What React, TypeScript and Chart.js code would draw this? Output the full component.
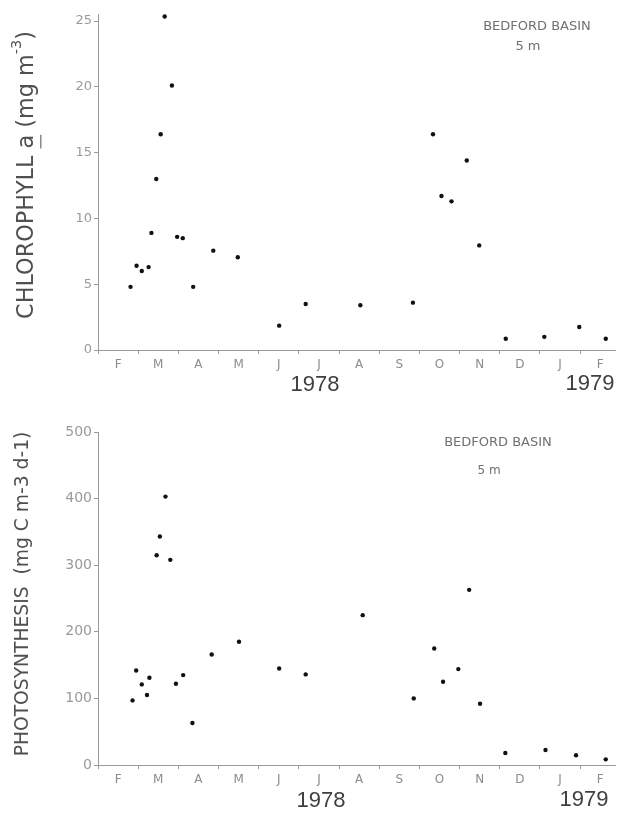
import React, { useEffect, useRef } from 'react';
import { Chart, registerables } from 'chart.js';

Chart.register(...registerables);

// Month labels (Feb 1978 .. Feb 1979); x values are months since 1 Feb 1978
const MONTH_LABELS = ['F', 'M', 'A', 'M', 'J', 'J', 'A', 'S', 'O', 'N', 'D', 'J', 'F'];
const YEAR_LABELS = ['1978', '1979'];

// Chlorophyll a at 5 m (mg m-3)
const CHL_MONTH = [0.81, 0.96, 1.09, 1.26, 1.33, 1.45, 1.56, 1.66, 1.84, 1.97, 2.11, 2.37, 2.87, 3.48, 4.51, 5.17, 6.53, 7.84, 8.34, 8.55, 8.8, 9.18, 9.49, 10.15, 11.11, 11.98, 12.64];
const CHL_VALUE = [4.8, 6.4, 6.0, 6.3, 8.9, 13.0, 16.4, 25.35, 20.1, 8.6, 8.5, 4.8, 7.55, 7.05, 1.85, 3.5, 3.4, 3.6, 16.4, 11.7, 11.3, 14.4, 7.95, 0.85, 1.0, 1.75, 0.85];
const CHL_TICKS = [0, 5, 10, 15, 20, 25];

// Photosynthesis at 5 m (mg C m-3 d-1)
const PS_MONTH = [0.86, 0.95, 1.09, 1.22, 1.28, 1.46, 1.54, 1.68, 1.8, 1.94, 2.12, 2.35, 2.83, 3.51, 4.51, 5.17, 6.59, 7.86, 8.37, 8.59, 8.97, 9.24, 9.51, 10.14, 11.14, 11.9, 12.64];
const PS_VALUE = [97, 142, 121, 105, 131, 315, 343, 403, 308, 122, 135, 63, 166, 185, 145, 136, 225, 100, 175, 125, 144, 263, 92, 18, 22.5, 14.6, 8.5];
const PS_TICKS = [0, 100, 200, 300, 400, 500];

const STATION = 'BEDFORD BASIN';
const DEPTH = '5 m';

type Seg = { t: string; sup?: boolean; underline?: boolean };

const textPlugin = {
  id: 'texts',
  afterDraw(chart: any, _args: any, o: any) {
    const ctx = chart.ctx as CanvasRenderingContext2D;
    ctx.save();
    // station + depth
    ctx.fillStyle = '#707070';
    ctx.textAlign = 'center';
    ctx.textBaseline = 'middle';
    ctx.font = `${o.stationSize}px 'DejaVu Sans'`;
    ctx.fillText(STATION, o.stationX, o.stationY);
    ctx.font = `${o.depthSize}px 'DejaVu Sans'`;
    ctx.fillText(DEPTH, o.depthX, o.depthY);
    // years
    ctx.fillStyle = '#404040';
    ctx.font = `22px 'Liberation Sans'`;
    ctx.fillText(YEAR_LABELS[0], o.y1X, o.yearY);
    ctx.fillText(YEAR_LABELS[1], o.y2X, o.yearY2);
    // rotated y title
    const segs: Seg[] = o.title;
    const base = 18;
    const measure = (size: number) => {
      let w = 0;
      for (const s of segs) {
        ctx.font = `${s.sup ? size * 0.65 : size}px 'DejaVu Sans'`;
        w += ctx.measureText(s.t).width;
      }
      return w;
    };
    const size = base * o.titleLen / measure(base);
    const total = measure(size);
    ctx.translate(o.titleX, o.titleY);
    ctx.rotate(-Math.PI / 2);
    ctx.fillStyle = '#505050';
    ctx.strokeStyle = '#505050';
    ctx.textAlign = 'left';
    ctx.textBaseline = 'middle';
    let x = -total / 2;
    for (const s of segs) {
      const fs = s.sup ? size * 0.65 : size;
      ctx.font = `${fs}px 'DejaVu Sans'`;
      const w = ctx.measureText(s.t).width;
      const dy = s.sup ? -size * 0.42 : 0;
      ctx.fillText(s.t, x, dy);
      if (s.underline) {
        ctx.lineWidth = 1;
        ctx.beginPath();
        ctx.moveTo(x, size * 0.62);
        ctx.lineTo(x + w, size * 0.62);
        ctx.stroke();
      }
      x += w;
    }
    ctx.restore();
  },
};

function makeConfig(xs: number[], ys: number[], yTicks: number[], yMax: number, p: any): any {
  const axisColor = '#9a9a9a';
  const xTicks: number[] = [];
  for (let i = 0; i < MONTH_LABELS.length; i++) {
    xTicks.push(i);
    xTicks.push(i + 0.5);
  }
  return {
    type: 'scatter',
    data: {
      datasets: [
        {
          data: xs.map((x, i) => ({ x, y: ys[i] })),
          pointRadius: 2.2,
          pointBackgroundColor: '#111',
          pointBorderWidth: 0,
          showLine: false,
          clip: false,
        },
      ],
    },
    plugins: [textPlugin],
    options: {
      animation: false,
      responsive: false,
      maintainAspectRatio: false,
      devicePixelRatio: 1,
      layout: { padding: { top: p.padTop, left: 0, right: 0, bottom: 0 } },
      plugins: {
        legend: { display: false },
        tooltip: { enabled: false },
        texts: p.texts,
      },
      scales: {
        x: {
          type: 'linear',
          min: 0,
          max: 12.87,
          afterBuildTicks: (s: any) => {
            s.ticks = xTicks.map((v) => ({ value: v }));
          },
          afterFit: (s: any) => {
            s.height = p.xHeight;
          },
          border: { color: axisColor, width: 1 },
          grid: {
            drawOnChartArea: false,
            drawTicks: true,
            tickLength: 4,
            tickColor: (c: any) => (c.tick && Number.isInteger(c.tick.value) ? axisColor : 'rgba(0,0,0,0)'),
          },
          ticks: {
            autoSkip: false,
            maxRotation: 0,
            padding: 4,
            color: '#8c8c8c',
            font: { family: "'DejaVu Sans'", size: 12 },
            callback: (v: number) => (Number.isInteger(v) ? '' : MONTH_LABELS[Math.floor(v)]),
          },
        },
        y: {
          min: 0,
          max: yMax,
          afterBuildTicks: (s: any) => {
            s.ticks = yTicks.map((v) => ({ value: v }));
          },
          afterFit: (s: any) => {
            s.width = 98;
          },
          border: { color: axisColor, width: 1 },
          grid: { drawOnChartArea: false, drawTicks: true, tickLength: 4, tickColor: axisColor },
          ticks: {
            padding: 2,
            color: '#9a9a9a',
            font: { family: "'DejaVu Sans'", size: p.yFont },
          },
        },
      },
    },
  };
}

function ChartCanvas({ config, top, height }: { config: any; top: number; height: number }) {
  const ref = useRef<HTMLCanvasElement | null>(null);
  useEffect(() => {
    if (!ref.current) return;
    const chart = new Chart(ref.current, config);
    return () => chart.destroy();
  }, [config]);
  return (
    <canvas
      ref={ref}
      width={619}
      height={height}
      style={{ position: 'absolute', left: 0, top, width: 619, height }}
    />
  );
}

const chlConfig = makeConfig(CHL_MONTH, CHL_VALUE, CHL_TICKS, 25.5, {
  padTop: 14.5,
  xHeight: 50,
  yFont: 13,
  texts: {
    stationX: 537,
    stationY: 27,
    stationSize: 13,
    depthX: 528,
    depthY: 47,
    depthSize: 13,
    y1X: 315,
    y2X: 590,
    yearY: 385,
    yearY2: 384,
    titleX: 27,
    titleY: 175,
    titleLen: 288,
    title: [
      { t: 'CHLOROPHYLL ' },
      { t: 'a', underline: true },
      { t: ' (mg m' },
      { t: '-3', sup: true },
      { t: ')' },
    ],
  },
});

const psConfig = makeConfig(PS_MONTH, PS_VALUE, PS_TICKS, 500, {
  padTop: 32,
  xHeight: 53,
  yFont: 14,
  texts: {
    stationX: 498,
    stationY: 43,
    stationSize: 13,
    depthX: 489,
    depthY: 71,
    depthSize: 12,
    y1X: 321,
    y2X: 584,
    yearY: 401,
    yearY2: 400,
    titleX: 23,
    titleY: 194,
    titleLen: 325,
    title: [{ t: 'PHOTOSYNTHESIS  (mg C m-3 d-1)' }],
  },
});

export default function App() {
  return (
    <div style={{ position: 'absolute', left: 0, top: 0, width: 619, height: 818, background: '#fff' }}>
      <ChartCanvas config={chlConfig} top={0} height={400} />
      <ChartCanvas config={psConfig} top={400} height={418} />
    </div>
  );
}
